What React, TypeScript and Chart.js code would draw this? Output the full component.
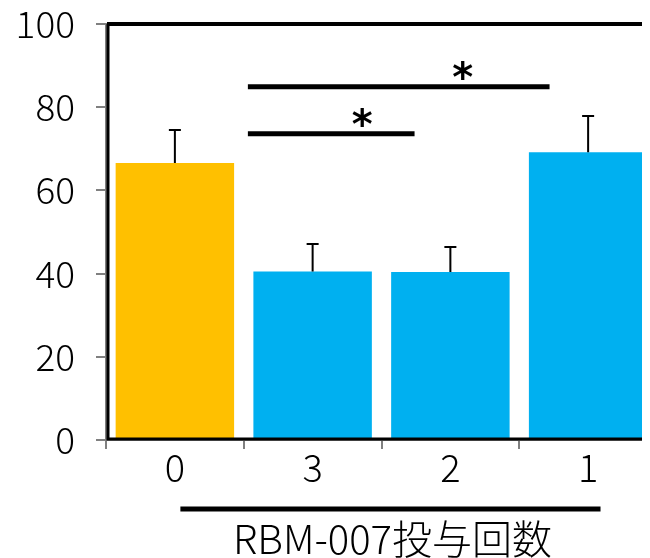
import React, { useEffect, useRef } from "react";
import { Chart, registerables } from "chart.js";

Chart.register(...registerables);

const categories = ["0", "3", "2", "1"];
const means = [66.6, 40.5, 40.4, 69.2];
const errors = [7.9, 6.6, 6.0, 8.7];
const barColors = ["#FFC000", "#00B0F0", "#00B0F0", "#00B0F0"];

// significance brackets (positions in category-index units)
const sigFrom = [0.53, 0.53];
const sigTo = [2.72, 1.74];
const sigLevel = [84.9, 73.6];
const sigStarAt = [2.09, 1.36];
const sigLabels = ["*", "*"];

const groupFrom = 0.04;
const groupTo = 3.09;
const groupTitle = "RBM-007投与回数";

const FONT = "'Noto Sans CJK JP', 'Noto Sans', sans-serif";

const overlay = {
  id: "overlay",
  afterDatasetsDraw(chart: any) {
    const ctx = chart.ctx;
    const x = chart.scales.x;
    const y = chart.scales.y;
    const ca = chart.chartArea;
    const meta = chart.getDatasetMeta(0);
    ctx.save();
    // error bars
    ctx.strokeStyle = "#000";
    ctx.lineWidth = 2;
    meta.data.forEach((bar: any, i: number) => {
      const top = y.getPixelForValue(means[i] + errors[i]);
      const base = y.getPixelForValue(means[i]);
      ctx.beginPath();
      ctx.moveTo(bar.x, base);
      ctx.lineTo(bar.x, top);
      ctx.moveTo(bar.x - 6, top);
      ctx.lineTo(bar.x + 6, top);
      ctx.stroke();
    });
    // frame
    ctx.strokeStyle = "#000";
    ctx.lineWidth = 3;
    ctx.beginPath();
    ctx.moveTo(ca.left + 2, ca.top);
    ctx.lineTo(ca.left + 2, ca.bottom - 1);
    ctx.lineTo(chart.width, ca.bottom - 1);
    ctx.stroke();
    ctx.lineWidth = 4;
    ctx.beginPath();
    ctx.moveTo(ca.left + 1, ca.top);
    ctx.lineTo(chart.width, ca.top);
    ctx.stroke();
    // significance
    ctx.lineWidth = 5;
    ctx.fillStyle = "#000";
    ctx.font = "bold 40px 'DejaVu Sans', sans-serif";
    ctx.textAlign = "center";
    ctx.textBaseline = "alphabetic";
    sigLevel.forEach((lv, i) => {
      const py = y.getPixelForValue(lv);
      ctx.beginPath();
      ctx.moveTo(x.getPixelForValue(sigFrom[i]), py);
      ctx.lineTo(x.getPixelForValue(sigTo[i]), py);
      ctx.stroke();
      const m = ctx.measureText(sigLabels[i]);
      const cy = py - 17;
      const base = cy + (m.actualBoundingBoxAscent - m.actualBoundingBoxDescent) / 2;
      ctx.fillText(sigLabels[i], x.getPixelForValue(sigStarAt[i]), base);
    });
    // group underline + title
    const gx1 = x.getPixelForValue(groupFrom);
    const gx2 = x.getPixelForValue(groupTo);
    const gy = x.bottom - 49;
    ctx.lineWidth = 5;
    ctx.beginPath();
    ctx.moveTo(gx1, gy);
    ctx.lineTo(gx2, gy);
    ctx.stroke();
    ctx.font = `300 40px ${FONT}`;
    ctx.textBaseline = "middle";
    ctx.fillText(groupTitle, (gx1 + gx2) / 2 + 2, x.bottom - 19);
    ctx.restore();
  },
};

export default function App() {
  const ref = useRef<HTMLCanvasElement>(null);
  useEffect(() => {
    const chart = new Chart(ref.current as HTMLCanvasElement, {
      type: "bar",
      data: {
        labels: categories,
        datasets: [
          {
            data: means,
            backgroundColor: barColors,
            borderWidth: 0,
            categoryPercentage: 0.86,
            barPercentage: 1,
          },
        ],
      },
      options: {
        responsive: false,
        animation: false,
        devicePixelRatio: 1,
        layout: { padding: { top: 16, right: 16, left: 0, bottom: 0 } },
        plugins: { legend: { display: false }, tooltip: { enabled: false } },
        scales: {
          x: {
            offset: true,
            grid: {
              offset: true,
              drawOnChartArea: false,
              drawTicks: true,
              tickLength: 9,
              color: "#808080",
              lineWidth: 2,
            },
            border: { display: true, color: "#808080", width: 2 },
            ticks: {
              color: "#000",
              padding: 0,
              font: { family: FONT, size: 38, weight: "300", lineHeight: 1 },
            },
            afterFit: (s: any) => {
              s.height = 118;
              s.paddingLeft = 0;
              s.paddingRight = 0;
            },
          },
          y: {
            min: 0,
            max: 100,
            grid: {
              drawOnChartArea: false,
              drawTicks: true,
              tickLength: 10,
              color: "#808080",
              lineWidth: 2,
            },
            border: { display: true, color: "#808080", width: 2 },
            ticks: {
              stepSize: 20,
              color: "#000",
              padding: 21,
              font: { family: FONT, size: 37, weight: "300", lineHeight: 0.8 },
            },
            afterFit: (s: any) => {
              s.width = 98;
              s.paddingTop = 0;
              s.paddingBottom = 0;
            },
          },
        },
      },
      plugins: [overlay],
    });
    return () => chart.destroy();
  }, []);
  return (
    <div style={{ width: 642, height: 550, overflow: "hidden" }}>
      <canvas ref={ref} width={665} height={550} style={{ display: "block", width: 665, height: 550 }} />
    </div>
  );
}
